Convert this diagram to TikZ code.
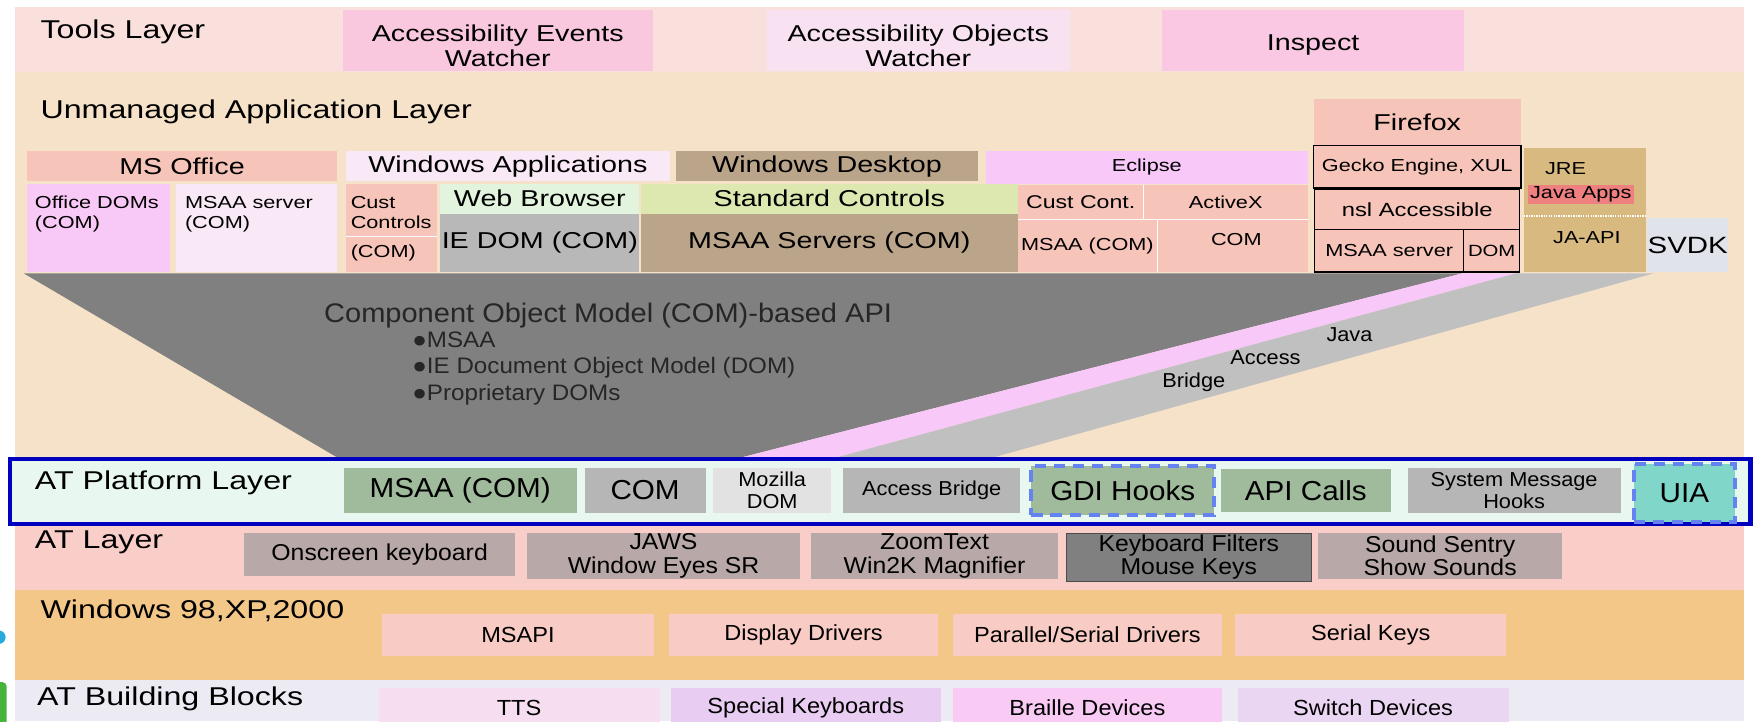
\documentclass[tikz,border=0pt]{standalone}
\usepackage{fontspec}
\setmainfont{Liberation Sans}[FakeStretch=1.25]
\newfontfamily\narrowfont{Liberation Sans}[FakeStretch=1.08]
\usepackage{tikz}

\definecolor{toolsband}{RGB}{249,224,220}
\definecolor{appband}{RGB}{246,226,200}
\definecolor{platband}{RGB}{232,248,240}
\definecolor{atband}{RGB}{250,206,200}
\definecolor{winband}{RGB}{243,199,136}
\definecolor{bbband}{RGB}{236,234,242}
\definecolor{evpink}{RGB}{249,200,222}
\definecolor{objpink}{RGB}{248,226,242}
\definecolor{inspink}{RGB}{250,200,226}
\definecolor{salmon}{RGB}{246,196,184}
\definecolor{lilac}{RGB}{249,232,246}
\definecolor{taupe}{RGB}{186,164,138}
\definecolor{eclpink}{RGB}{248,200,248}
\definecolor{magpink}{RGB}{248,200,246}
\definecolor{webgreen}{RGB}{226,244,222}
\definecolor{iegray}{RGB}{184,184,184}
\definecolor{stdgreen}{RGB}{220,232,176}
\definecolor{jregold}{RGB}{216,186,128}
\definecolor{javared}{RGB}{238,128,128}
\definecolor{svdkgray}{RGB}{224,228,234}
\definecolor{darkwedge}{RGB}{128,128,128}
\definecolor{pinkwedge}{RGB}{248,200,248}
\definecolor{lightwedge}{RGB}{192,192,192}
\definecolor{platblue}{RGB}{0,0,190}
\definecolor{hookblue}{RGB}{100,130,240}
\definecolor{sagegreen}{RGB}{160,186,156}
\definecolor{midgray}{RGB}{182,182,182}
\definecolor{palegray}{RGB}{226,226,226}
\definecolor{uiateal}{RGB}{128,214,200}
\definecolor{mauve}{RGB}{184,168,168}
\definecolor{kbgray}{RGB}{128,128,128}
\definecolor{drvpink}{RGB}{248,204,196}
\definecolor{ttspink}{RGB}{246,222,240}
\definecolor{lavender}{RGB}{232,204,242}
\definecolor{brlpink}{RGB}{248,202,244}
\definecolor{swlav}{RGB}{234,214,242}
\definecolor{edgecyan}{RGB}{40,170,220}
\definecolor{edgegreen}{RGB}{70,180,60}

\begin{document}
\begin{tikzpicture}[x=1pt,y=-1pt]
			\tikzstyle{Band}	= [inner sep=0pt, draw=none, minimum width=1544]
			\tikzstyle{Box}		= [inner sep=0pt, draw=none, align=center, font=\fontsize{20.5}{23}\selectfont]
			\tikzstyle{Small}	= [font=\fontsize{15.5}{18}\selectfont]
			\tikzstyle{Head}	= [inner sep=0pt, anchor=west, font=\fontsize{23}{26}\selectfont]
			\tikzstyle{Plat}	= [font=\narrowfont\fontsize{24.5}{26}\selectfont]
			\tikzstyle{PlatSm}	= [font=\narrowfont\fontsize{18}{20}\selectfont]
			\tikzstyle{Narrow}	= [font=\narrowfont\fontsize{20.5}{21}\selectfont]
			\tikzstyle{Drv}		= [font=\narrowfont\fontsize{19.5}{21}\selectfont]
			\tikzstyle{Framed}	= [draw=black, line width=1.2pt]
			\tikzstyle{Hooked}	= [draw=hookblue, line width=3.5pt, dash pattern=on 10pt off 7pt]

			\useasboundingbox (0,0) rectangle (1568,644);
			\fill[white] (0,0) rectangle (1568,644);

			\node (tools) at (785,35) [Band, fill=toolsband, minimum height=58] {};
			\node (app) at (785,237) [Band, fill=appband, minimum height=346] {};
			\node (atl) at (785,497.5) [Band, fill=atband, minimum height=59] {};
			\node (win) at (785,567) [Band, fill=winband, minimum height=80] {};
			\node (bb) at (785,625.5) [Band, fill=bbband, minimum height=37] {};
			\fill[edgecyan] (-1,569) circle (6);
			\fill[edgegreen, rounded corners=4pt] (-8,609) rectangle (6,652);

			\node (toolslbl) at (36,28) [Head] {Tools Layer};
			\node (events) at (444.5,36) [Box, fill=evpink, minimum width=277, minimum height=54] {};
			\node (eventstxt) at (444.5,41) [Box] {Accessibility Events\\Watcher};
			\node (objects) at (820,36) [Box, fill=objpink, minimum width=270, minimum height=54] {};
			\node (objectstxt) at (820,41) [Box] {Accessibility Objects\\Watcher};
			\node (inspect) at (1172.5,36) [Box, fill=inspink, minimum width=269, minimum height=54] {};
			\node (inspecttxt) at (1172.5,40) [Box] {Inspect};

			\node (applbl) at (36,100) [Head] {Unmanaged Application Layer};
			\node (firefox) at (1265.5,109) [Box, fill=salmon, minimum width=185, minimum height=42] {Firefox};
			\node (msoffice) at (162.5,148.5) [Box, fill=salmon, minimum width=277, minimum height=27] {MS Office};
			\node (winapps) at (453.5,148.5) [Box, fill=lilac, minimum width=289, minimum height=27] {Windows Applications};
			\node (windesk) at (738.5,148.5) [Box, fill=taupe, minimum width=269, minimum height=27] {Windows Desktop};
			\node (eclipse) at (1024,149.5) [Box, Small, fill=eclpink, minimum width=288, minimum height=29] {Eclipse};
			\node (gecko) at (1265.5,149) [Box, Small, Framed, fill=salmon, minimum width=185, minimum height=38] {Gecko Engine, XUL};

			\node (officedoms) at (88,203.5) [Box, fill=magpink, minimum width=128, minimum height=79] {};
			\node (officetxt) at (31,175) [Small, anchor=north west, align=left, inner sep=0pt] {Office DOMs\\(COM)};
			\node (msaasrv) at (229,203.5) [Box, fill=lilac, minimum width=144, minimum height=79] {};
			\node (msaasrvtxt) at (165,175) [Small, anchor=north west, align=left, inner sep=0pt] {MSAA server\\(COM)};
			\node (custctl) at (349.5,203.5) [Box, fill=salmon, minimum width=81, minimum height=79] {};
			\node (custtxt) at (313,175) [Small, anchor=north west, align=left, inner sep=0pt] {Cust\\Controls};
			\draw [white, line width=1pt] (custctl.west |- 0,211) -- (custctl.east |- 0,211);
			\node (custcom) at (313,226) [Small, anchor=west, inner sep=0pt] {(COM)};
			\node (webbrowser) at (482,177.5) [Box, fill=webgreen, minimum width=178, minimum height=27] {Web Browser};
			\node (iedom) at (482,217) [Box, fill=iegray, minimum width=178, minimum height=52] {IE DOM (COM)};
			\node (stdctl) at (740.5,177.5) [Box, fill=stdgreen, minimum width=337, minimum height=27] {Standard Controls};
			\node (msaaservers) at (740.5,217) [Box, fill=taupe, minimum width=337, minimum height=52] {MSAA Servers (COM)};
			\node (custcont) at (965,180.5) [Box, font=\fontsize{16.5}{18}\selectfont, fill=salmon, minimum width=112, minimum height=31] {Cust Cont.};
			\node (activex) at (1094.5,180.5) [Box, Small, fill=salmon, minimum width=147, minimum height=31] {ActiveX};
			\node (msaacom) at (971,219.5) [Box, Small, fill=salmon, minimum width=124, minimum height=47] {MSAA (COM)};
			\node (combox) at (1100.5,219.5) [Box, fill=salmon, minimum width=135, minimum height=47] {};
			\node (comtxt) at (1104,214) [Small] {COM};
			\draw [white, line width=1pt] (custcont.north east) -- (custcont.south east);
			\draw [white, line width=1pt] (msaacom.north west) -- (combox.north east);
			\draw [white, line width=1pt] (msaacom.north east) -- (msaacom.south east);

			\node (nsl) at (1265.5,187) [Box, font=\fontsize{17}{19}\selectfont, Framed, fill=salmon, minimum width=183, minimum height=36] {nsl Accessible};
			\node (ffmsaa) at (1240.5,224) [Box, Small, Framed, fill=salmon, minimum width=133, minimum height=38] {MSAA server};
			\node (ffdom) at (1332,224) [Box, font=\fontsize{14.5}{16}\selectfont, Framed, fill=salmon, minimum width=50, minimum height=38] {DOM};

			\node (jre) at (1415.5,187.5) [Box, fill=jregold, minimum width=109, minimum height=111] {};
			\node (jretxt) at (1398,151) [Small] {JRE};
			\node (javaapps) at (1411.5,173.5) [Box, Small, fill=javared, minimum width=95, minimum height=17] {Java Apps};
			\draw [white, densely dotted, line width=1.2pt] (jre.west |- 0,193) -- (jre.east |- 0,193);
			\node (jaapi) at (1417,212) [Small] {JA-API};
			\node (svdk) at (1507,219) [Box, font=\fontsize{21}{23}\selectfont, fill=svdkgray, minimum width=72, minimum height=48] {SVDK};

			\fill[darkwedge] (21,244) -- (1306,244) -- (660,409) -- (302,409) -- cycle;
			\fill[pinkwedge] (1306,244) -- (1354,244) -- (745,409) -- (660,409) -- cycle;
			\fill[lightwedge] (1354,244) -- (1477,244) -- (885,409) -- (745,409) -- cycle;
			\node (comapi) at (543,282) [font=\narrowfont\fontsize{24}{27}\selectfont, text=black!85] {Component Object Model (COM)-based API};
			\node (bullets) at (368,329) [anchor=west, align=left, inner sep=0pt, font=\narrowfont\fontsize{20}{24}\selectfont, text=black!85] {●MSAA\\●IE Document Object Model (DOM)\\●Proprietary DOMs};
			\node (java) at (1205,299) [PlatSm] {Java};
			\node (access) at (1130,319) [PlatSm] {Access};
			\node (bridge) at (1066,341) [PlatSm] {Bridge};

			\node (plat) at (786,439) [Band, fill=platband, draw=platblue, line width=4pt, minimum width=1554, minimum height=58] {};
			\node (platlbl) at (31,431) [Head] {AT Platform Layer};
			\node (pmsaa) at (411,438) [Box, Plat, fill=sagegreen, minimum width=208, minimum height=40] {MSAA (COM)};
			\node (pcom) at (576,438) [Box, Plat, fill=midgray, minimum width=108, minimum height=40] {COM};
			\node (pmoz) at (689.5,438) [Box, PlatSm, fill=palegray, minimum width=105, minimum height=40] {Mozilla\\DOM};
			\node (pbridge) at (832,438) [Box, PlatSm, fill=midgray, minimum width=158, minimum height=40] {Access Bridge};
			\node (pgdi) at (1002.5,438) [Box, Plat, Hooked, fill=sagegreen, minimum width=163, minimum height=44] {GDI Hooks};
			\node (papi) at (1166,438) [Box, Plat, fill=sagegreen, minimum width=152, minimum height=38] {API Calls};
			\node (psys) at (1352,438) [Box, PlatSm, fill=midgray, minimum width=190, minimum height=40] {System Message\\Hooks};
			\node (puia) at (1504,440) [Box, Plat, Hooked, fill=uiateal, minimum width=90, minimum height=52] {UIA};

			\node (atlbl) at (31,484) [Head] {AT Layer};
			\node (onscreen) at (339,495) [Box, Narrow, fill=mauve, minimum width=242, minimum height=38] {Onscreen keyboard};
			\node (jaws) at (592.5,496.5) [Box, Narrow, fill=mauve, minimum width=243, minimum height=41] {JAWS\\Window Eyes SR};
			\node (zoomtext) at (834.5,496.5) [Box, Narrow, fill=mauve, minimum width=221, minimum height=41] {ZoomText\\Win2K Magnifier};
			\node (kbfilter) at (1061.5,497.5) [Box, Narrow, fill=kbgray, draw=black!70, minimum width=219, minimum height=43] {Keyboard Filters\\Mouse Keys};
			\node (sentry) at (1286,496.5) [Box, Narrow, fill=mauve, minimum width=218, minimum height=41] {Sound Sentry\\Show Sounds};

			\node (winlbl) at (36,545) [Head] {Windows 98,XP,2000};
			\node (msapi) at (462.5,567) [Box, Drv, fill=drvpink, minimum width=243, minimum height=38] {MSAPI};
			\node (display) at (717.5,567) [Box, Drv, fill=drvpink, minimum width=241, minimum height=38] {Display Drivers};
			\node (parallel) at (971,567) [Box, Drv, fill=drvpink, minimum width=240, minimum height=38] {Parallel/Serial Drivers};
			\node (serialkeys) at (1224,567) [Box, Drv, fill=drvpink, minimum width=242, minimum height=38] {Serial Keys};

			\node (bblbl) at (33,624) [Head] {AT Building Blocks};
			\node (tts) at (463.5,632) [Box, Drv, fill=ttspink, minimum width=251, minimum height=36] {TTS};
			\node (special) at (719.5,632) [Box, Drv, fill=lavender, minimum width=241, minimum height=36] {Special Keyboards};
			\node (braille) at (971,632) [Box, Drv, fill=brlpink, minimum width=240, minimum height=36] {Braille Devices};
			\node (switch) at (1226,632) [Box, Drv, fill=swlav, minimum width=242, minimum height=36] {Switch Devices};

		\end{tikzpicture}
\end{document}
